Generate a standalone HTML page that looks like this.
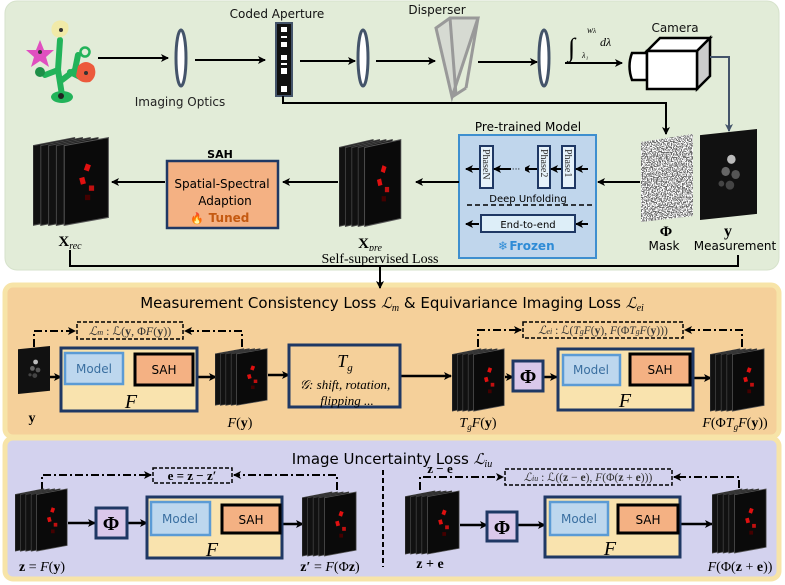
<!DOCTYPE html>
<html><head><meta charset="utf-8"><style>
html,body{margin:0;padding:0;background:#fff}
svg{display:block}
.s{font-family:"DejaVu Sans","Liberation Sans",sans-serif}
.m{font-family:"Liberation Serif","DejaVu Serif",serif}
</style></head><body>
<svg width="785" height="585" viewBox="0 0 785 585" xmlns="http://www.w3.org/2000/svg">
<defs>
<marker id="ah" markerWidth="8" markerHeight="8" refX="7" refY="4" orient="auto" markerUnits="userSpaceOnUse"><path d="M0,0 L8,4 L0,8 L2,4z" fill="#000"/></marker>
<marker id="ahg" markerWidth="8" markerHeight="8" refX="7" refY="4" orient="auto" markerUnits="userSpaceOnUse"><path d="M0,0 L8,4 L0,8 L2,4z" fill="#44546a"/></marker>
<symbol id="stk" viewBox="0 0 60 70" preserveAspectRatio="none">
<polygon points="0,8 32,2 32,62 0,68" fill="#111" stroke="#444" stroke-width="0.8"/>
<polygon points="6,8 38,2 38,62 6,68" fill="#111" stroke="#444" stroke-width="0.8"/>
<polygon points="12,8 44,2 44,62 12,68" fill="#111" stroke="#444" stroke-width="0.8"/>
<polygon points="18,8 50,2 50,62 18,68" fill="#111" stroke="#444" stroke-width="0.8"/>
<polygon points="24,8 58,2 58,62 24,68" fill="#0a0a0a" stroke="#555" stroke-width="0.8"/>
<rect x="40" y="22" width="4" height="5" fill="#e01010" transform="rotate(20 42 24)"/>
<rect x="36" y="32" width="4" height="5" fill="#e01010" transform="rotate(-15 38 34)"/>
<rect x="43" y="38" width="4" height="4" fill="#c01010"/>
<rect x="40" y="45" width="4" height="4" fill="#400"/>
</symbol>
<symbol id="meas" viewBox="0 0 40 60" preserveAspectRatio="none">
<polygon points="0,4 40,0 40,56 0,60" fill="#111"/>
<circle cx="22" cy="20" r="3" fill="#bbb"/><circle cx="18" cy="28" r="3" fill="#666"/><circle cx="25" cy="30" r="3" fill="#555"/><circle cx="21" cy="37" r="3" fill="#444"/><circle cx="15" cy="36" r="2" fill="#444"/>
</symbol>
<filter id="noise" x="0" y="0" width="100%" height="100%"><feTurbulence type="fractalNoise" baseFrequency="0.8" numOctaves="1" seed="3"/><feColorMatrix type="matrix" values="1 0 0 0 0  1 0 0 0 0  1 0 0 0 0  0 0 0 0 1"/><feComponentTransfer><feFuncR type="discrete" tableValues="0.15 0.95"/><feFuncG type="discrete" tableValues="0.15 0.95"/><feFuncB type="discrete" tableValues="0.15 0.95"/></feComponentTransfer></filter>
<clipPath id="mclip"><polygon points="641,142 693,134 693,216 641,222"/></clipPath>
</defs>

<rect x="5" y="1" width="774" height="269" rx="12" fill="#e2ecd8" stroke="#d6e2cb"/>
<rect x="5" y="285" width="774" height="152" rx="8" fill="#f5d09a" stroke="#f7e4a8" stroke-width="5"/>
<rect x="5" y="438" width="774" height="141" rx="8" fill="#d3d2ee" stroke="#f7e4a8" stroke-width="5"/>

<g>
<path d="M60,40 L58,70 L45,75 M58,70 L62,95 M62,80 L75,70 L78,55 M70,72 L82,78" stroke="#22b35a" stroke-width="6" fill="none" stroke-linecap="round"/>
<circle cx="85" cy="52" r="4.5" fill="none" stroke="#22b35a" stroke-width="2.5"/>
<ellipse cx="62" cy="97" rx="11" ry="6" fill="#22b35a"/><circle cx="61" cy="96" r="3" fill="#222"/>
<circle cx="40" cy="72" r="5" fill="#1e8f48"/>
<polygon points="40,40 44,50 54,50 46,57 49,67 40,61 31,67 34,57 26,50 36,50" fill="#e04fc0"/><circle cx="40" cy="52" r="2" fill="#333"/>
<path d="M55,22 Q62,18 68,24 Q70,32 64,36 Q56,40 52,33 Q50,26 55,22z" fill="#f1eaa8"/><circle cx="61" cy="30" r="2" fill="#333"/>
<path d="M78,66 Q86,58 94,66 Q98,76 90,82 Q80,84 76,76z" fill="#ec5a3c"/><circle cx="86" cy="73" r="2" fill="#333"/>
</g>
<line x1="98" y1="58" x2="168" y2="58" stroke="#000" stroke-width="2" marker-end="url(#ah)"/>
<ellipse cx="181" cy="58" rx="5" ry="28" fill="#fff" stroke="#44546a" stroke-width="3"/>
<text x="180" y="106" class="s" font-size="12" text-anchor="middle" fill="#222">Imaging Optics</text>
<line x1="195" y1="60" x2="265" y2="60" stroke="#000" stroke-width="2" marker-end="url(#ah)"/>
<text x="277" y="18" class="s" font-size="12" text-anchor="middle" fill="#111">Coded Aperture</text>
<rect x="276" y="23" width="16" height="73" fill="#111" stroke="#44546a" stroke-width="2"/>
<g fill="#fff"><rect x="281" y="27" width="6" height="5"/><rect x="281" y="36" width="6" height="2"/><rect x="281" y="42" width="6" height="5"/><rect x="281" y="55" width="6" height="5"/><rect x="281" y="63" width="6" height="2"/><rect x="281" y="68" width="6" height="6"/><rect x="281" y="86" width="6" height="6"/></g>
<line x1="300" y1="61" x2="355" y2="61" stroke="#000" stroke-width="2" marker-end="url(#ah)"/>
<ellipse cx="363" cy="58" rx="5" ry="28" fill="#fff" stroke="#44546a" stroke-width="3"/>
<line x1="376" y1="61" x2="435" y2="61" stroke="#000" stroke-width="2" marker-end="url(#ah)"/>
<text x="437" y="14" class="s" font-size="12" text-anchor="middle" fill="#111">Disperser</text>
<g stroke="#999" stroke-width="3" fill="#cfcfcf" fill-opacity="0.6">
<polygon points="436,28 450,18 478,18 452,97"/>
<line x1="450" y1="18" x2="456" y2="95"/><line x1="478" y1="18" x2="466" y2="88"/><line x1="452" y1="97" x2="466" y2="88"/>
</g>
<line x1="478" y1="62" x2="537" y2="62" stroke="#000" stroke-width="2" marker-end="url(#ah)"/>
<ellipse cx="544" cy="58" rx="5" ry="28" fill="#fff" stroke="#44546a" stroke-width="3"/>
<text x="568" y="56" class="m" font-size="26" font-style="italic">∫</text>
<text x="587" y="33" class="m" font-size="9" font-style="italic">w<tspan font-size="7">λ</tspan></text>
<text x="582" y="58" class="m" font-size="8" font-style="italic">λ₁</text>
<text x="600" y="46" class="m" font-size="12" font-style="italic">dλ</text>
<line x1="565" y1="63" x2="622" y2="63" stroke="#000" stroke-width="2" marker-end="url(#ah)"/>
<text x="675" y="32" class="s" font-size="12" text-anchor="middle" fill="#111">Camera</text>
<path d="M632,53 L647,53 L647,80 L632,80 Q627,66 632,53z" fill="#fff" stroke="#000" stroke-width="2.5"/>
<polygon points="647,51 660,38 710,38 697,51" fill="#fff" stroke="#000" stroke-width="2.5"/>
<polygon points="697,51 710,38 710,76 697,89" fill="#ccc" stroke="#000" stroke-width="2.5"/>
<rect x="647" y="51" width="50" height="38" fill="#fff" stroke="#000" stroke-width="2.5"/>
<polyline points="710,57 729,57 729,131" fill="none" stroke="#44546a" stroke-width="2" marker-end="url(#ahg)"/>
<polyline points="283,96 283,103 666,103 666,134" fill="none" stroke="#000" stroke-width="2" marker-end="url(#ah)"/>

<rect x="641" y="134" width="52" height="88" filter="url(#noise)" clip-path="url(#mclip)"/>
<text x="666" y="236" class="m" font-size="15" font-weight="bold" text-anchor="middle">Φ</text>
<text x="664" y="250" class="s" font-size="12" text-anchor="middle">Mask</text>
<use href="#meas" x="700" y="129" width="57" height="91"/>
<text x="728" y="236" class="m" font-size="16" font-weight="bold" text-anchor="middle">y</text>
<text x="735" y="250" class="s" font-size="12" text-anchor="middle">Measurement</text>
<line x1="640" y1="182" x2="598" y2="182" stroke="#000" stroke-width="2" marker-end="url(#ah)"/>

<text x="528" y="131" class="s" font-size="12" text-anchor="middle">Pre-trained Model</text>
<rect x="459" y="135" width="137" height="123" fill="#c0d6ec" stroke="#3e8fcf" stroke-width="2"/>
<g fill="#e6f2fa" stroke="#1f3864" stroke-width="2">
<rect x="480" y="146" width="13" height="42"/><rect x="538" y="146" width="12" height="42"/><rect x="562" y="146" width="13" height="42"/>
</g>
<g class="m" font-size="10" fill="#333">
<text transform="translate(483,149) rotate(90)">PhaseN</text>
<text transform="translate(541,149) rotate(90)">Phase2</text>
<text transform="translate(565,149) rotate(90)">Phase1</text>
</g>
<g stroke="#000" stroke-width="2" marker-end="url(#ah)">
<line x1="588" y1="169" x2="576" y2="169"/><line x1="561" y1="169" x2="551" y2="169"/><line x1="537" y1="169" x2="523" y2="169"/><line x1="479" y1="169" x2="466" y2="169"/><line x1="512" y1="169" x2="494" y2="169"/>
<line x1="588" y1="224" x2="576" y2="224"/><line x1="479" y1="224" x2="466" y2="224"/>
</g>
<rect x="511" y="167" width="14" height="5" fill="#c0d6ec"/>
<text x="516" y="172" font-size="9" class="s" text-anchor="middle">···</text>
<text x="528" y="202" class="s" font-size="10" text-anchor="middle">Deep Unfolding</text>
<line x1="467" y1="205" x2="592" y2="205" stroke="#000" stroke-width="1.5" stroke-dasharray="5,3"/>
<rect x="481" y="215" width="94" height="17" fill="#ddeef8" stroke="#1f3864" stroke-width="2"/>
<text x="528" y="228" class="s" font-size="10" text-anchor="middle">End-to-end</text>
<text x="503" y="250" class="s" font-size="12" fill="#2e8bd6" text-anchor="middle">❄</text>
<text x="532" y="250" class="s" font-size="12" font-weight="bold" fill="#2e8bd6" text-anchor="middle">Frozen</text>
<line x1="459" y1="182" x2="416" y2="182" stroke="#000" stroke-width="2" marker-end="url(#ah)"/>

<use href="#stk" x="339" y="137" width="64" height="92"/>
<text x="370" y="248" class="m" font-size="15" font-weight="bold" text-anchor="middle">X<tspan font-size="10" font-style="italic" font-weight="normal" dy="3">pre</tspan></text>
<rect x="310" y="251" width="140" height="14" fill="#e2ecd8"/>
<text x="380" y="263" class="m" font-size="14" text-anchor="middle">Self-supervised Loss</text>
<line x1="338" y1="182" x2="283" y2="182" stroke="#000" stroke-width="2" marker-end="url(#ah)"/>
<text x="220" y="158" class="s" font-size="11" font-weight="bold" text-anchor="middle">SAH</text>
<rect x="167" y="161" width="111" height="67" fill="#f4b183" stroke="#1f3864" stroke-width="2.5"/>
<text x="222" y="188" class="s" font-size="12" text-anchor="middle">Spatial-Spectral</text>
<text x="225" y="205" class="s" font-size="12" text-anchor="middle">Adaption</text>
<text x="197" y="222" font-size="11" fill="#e0602a" text-anchor="middle">🔥</text>
<text x="229" y="222" class="s" font-size="12" font-weight="bold" fill="#c55a11" text-anchor="middle">Tuned</text>
<line x1="165" y1="182" x2="112" y2="182" stroke="#000" stroke-width="2" marker-end="url(#ah)"/>
<use href="#stk" x="33" y="135" width="78" height="93"/>
<text x="70" y="246" class="m" font-size="15" font-weight="bold" text-anchor="middle">X<tspan font-size="10" font-style="italic" font-weight="normal" dy="3">rec</tspan></text>
<polyline points="70,250 70,266 738,266 738,255" fill="none" stroke="#000" stroke-width="2"/>
<line x1="380" y1="266" x2="380" y2="288" stroke="#000" stroke-width="2" marker-end="url(#ah)"/>

<text x="392" y="308" class="s" font-size="15" text-anchor="middle">Measurement Consistency Loss <tspan class="m" font-style="italic">ℒ<tspan font-size="10" dy="3">m</tspan></tspan><tspan dy="-3"> &amp;  Equivariance Imaging Loss </tspan><tspan class="m" font-style="italic">ℒ<tspan font-size="10" dy="3">ei</tspan></tspan></text>

<g stroke="#000" stroke-width="2" fill="none" stroke-dasharray="8,3,2,3">
<polyline points="34,347 34,331 75,331" marker-end="url(#ah)"/>
<polyline points="242,347 242,331 185,331" marker-end="url(#ah)"/>
<polyline points="478,347 478,330 521,330" marker-end="url(#ah)"/>
<polyline points="742,347 742,330 685,330" marker-end="url(#ah)"/>
<polyline points="42,490 42,475 151,475" marker-end="url(#ah)"/>
<polyline points="337,490 337,475 234,475" marker-end="url(#ah)"/>
<polyline points="420,490 420,477 503,477" marker-end="url(#ah)"/>
<polyline points="739,488 739,477 674,477" marker-end="url(#ah)"/>
</g>
<g fill="none" stroke="#000" stroke-width="1.5" stroke-dasharray="4,2">
<rect x="77" y="322" width="106" height="17"/>
<rect x="523" y="322" width="160" height="16"/>
<rect x="153" y="468" width="79" height="15"/>
<rect x="505" y="469" width="167" height="16"/>
</g>
<line x1="383" y1="470" x2="383" y2="567" stroke="#000" stroke-width="2" stroke-dasharray="5,3"/>
<g class="m" fill="#333" text-anchor="middle">
<text x="130" y="335" font-size="12"><tspan font-style="italic">ℒ<tspan font-size="8">m</tspan></tspan> : ℒ(<tspan font-weight="bold">y</tspan>, Φ<tspan font-style="italic">F</tspan>(<tspan font-weight="bold">y</tspan>))</text>
<text x="603" y="334" font-size="11.5"><tspan font-style="italic">ℒ<tspan font-size="8">ei</tspan></tspan> : ℒ(<tspan font-style="italic">T<tspan font-size="8">g</tspan>F</tspan>(<tspan font-weight="bold">y</tspan>), <tspan font-style="italic">F</tspan>(Φ<tspan font-style="italic">T<tspan font-size="8">g</tspan>F</tspan>(<tspan font-weight="bold">y</tspan>)))</text>
<text x="192" y="480" font-size="13" fill="#000" font-weight="bold">e = z − z′</text>
<text x="588" y="481" font-size="11.5"><tspan font-style="italic">ℒ<tspan font-size="8">iu</tspan></tspan> : ℒ((<tspan font-weight="bold">z</tspan> − <tspan font-weight="bold">e</tspan>), <tspan font-style="italic">F</tspan>(Φ(<tspan font-weight="bold">z</tspan> + <tspan font-weight="bold">e</tspan>)))</text>
</g>

<use href="#meas" x="18" y="346" width="32" height="48"/>
<text x="32" y="422" class="m" font-size="14" font-weight="bold" text-anchor="middle">y</text>
<g stroke="#000" stroke-width="2.5" marker-end="url(#ah)">
<line x1="50" y1="377" x2="61" y2="377"/><line x1="123" y1="374" x2="135" y2="374"/><line x1="197" y1="377" x2="216" y2="377"/>
<line x1="268" y1="375" x2="289" y2="375"/><line x1="400" y1="376" x2="451" y2="376"/><line x1="505" y1="377" x2="513" y2="377"/>
<line x1="543" y1="377" x2="557" y2="377"/><line x1="618" y1="373" x2="630" y2="373"/><line x1="693" y1="378" x2="711" y2="378"/>
<line x1="68" y1="523" x2="95" y2="523"/><line x1="127" y1="523" x2="147" y2="523"/><line x1="210" y1="521" x2="222" y2="521"/><line x1="282" y1="524" x2="303" y2="524"/>
<line x1="460" y1="525" x2="487" y2="525"/><line x1="517" y1="525" x2="545" y2="525"/><line x1="608" y1="520" x2="618" y2="520"/><line x1="680" y1="524" x2="712" y2="524"/>
</g>
<g stroke="#1f3864" stroke-width="3" fill="#f9e3ae">
<rect x="61" y="348" width="136" height="63"/><rect x="558" y="349" width="135" height="61"/>
<rect x="147" y="497" width="135" height="61"/><rect x="545" y="497" width="135" height="60"/>
</g>
<g stroke="#5b9bd5" stroke-width="2.5" fill="#bdd7ee">
<rect x="65" y="353" width="58" height="31"/><rect x="563" y="355" width="57" height="30"/>
<rect x="151" y="502" width="59" height="33"/><rect x="550" y="502" width="58" height="33"/>
</g>
<g stroke="#000" stroke-width="3" fill="#f4b183">
<rect x="135" y="354" width="58" height="31"/><rect x="630" y="354" width="60" height="31"/>
<rect x="222" y="505" width="58" height="28"/><rect x="618" y="505" width="60" height="28"/>
</g>
<g class="s" font-size="12" text-anchor="middle">
<text x="94" y="373" fill="#3a6fa0">Model</text><text x="164" y="374">SAH</text>
<text x="591" y="374" fill="#3a6fa0">Model</text><text x="660" y="374">SAH</text>
<text x="180" y="523" fill="#3a6fa0">Model</text><text x="251" y="524">SAH</text>
<text x="579" y="523" fill="#3a6fa0">Model</text><text x="648" y="524">SAH</text>
</g>
<g class="m" font-size="20" font-style="italic" text-anchor="middle">
<text x="131" y="408">F</text><text x="625" y="407">F</text><text x="212" y="556">F</text><text x="610" y="555">F</text>
</g>
<use href="#stk" x="215" y="347" width="54" height="60"/>
<text x="240" y="427" class="m" font-size="14" text-anchor="middle"><tspan font-style="italic">F</tspan>(<tspan font-weight="bold">y</tspan>)</text>
<rect x="289" y="345" width="111" height="62" fill="none" stroke="#1f3864" stroke-width="3"/>
<text x="345" y="367" class="m" font-size="18" font-style="italic" text-anchor="middle">T<tspan font-size="11" dy="4">g</tspan></text>
<text x="345" y="389" class="m" font-size="13" font-style="italic" text-anchor="middle">𝒢: shift, rotation,</text>
<text x="347" y="405" class="m" font-size="13" font-style="italic" text-anchor="middle">flipping ...</text>
<use href="#stk" x="452" y="347" width="54" height="66"/>
<text x="478" y="427" class="m" font-size="14" text-anchor="middle"><tspan font-style="italic">T<tspan font-size="9" dy="3">g</tspan><tspan dy="-3">F</tspan></tspan>(<tspan font-weight="bold">y</tspan>)</text>
<g fill="#dac8ea" stroke="#1f3864" stroke-width="3">
<rect x="513" y="361" width="30" height="30"/><rect x="96" y="508" width="31" height="30"/><rect x="487" y="512" width="30" height="29"/>
</g>
<g class="m" font-size="20" font-weight="bold" text-anchor="middle">
<text x="528" y="383">Φ</text><text x="111" y="530">Φ</text><text x="502" y="534">Φ</text>
</g>
<use href="#stk" x="710" y="347" width="56" height="66"/>
<text x="735" y="427" class="m" font-size="14" text-anchor="middle"><tspan font-style="italic">F</tspan>(Φ<tspan font-style="italic">T<tspan font-size="9" dy="3">g</tspan><tspan dy="-3">F</tspan></tspan>(<tspan font-weight="bold">y</tspan>))</text>

<text x="392" y="464" class="s" font-size="15" text-anchor="middle">Image Uncertainty Loss <tspan class="m" font-style="italic">ℒ<tspan font-size="10" dy="3">iu</tspan></tspan></text>
<use href="#stk" x="15" y="487" width="54" height="66"/>
<text x="42" y="571" class="m" font-size="14" text-anchor="middle"><tspan font-weight="bold">z</tspan> = <tspan font-style="italic">F</tspan>(<tspan font-weight="bold">y</tspan>)</text>
<use href="#stk" x="302" y="490" width="56" height="68"/>
<text x="330" y="571" class="m" font-size="14" text-anchor="middle"><tspan font-weight="bold">z′</tspan> = <tspan font-style="italic">F</tspan>(Φ<tspan font-weight="bold">z</tspan>)</text>
<text x="440" y="473" class="m" font-size="13" font-weight="bold" text-anchor="middle">z − e</text>
<use href="#stk" x="405" y="489" width="56" height="67"/>
<text x="430" y="568" class="m" font-size="14" font-weight="bold" text-anchor="middle">z + e</text>
<use href="#stk" x="712" y="487" width="56" height="68"/>
<text x="740" y="571" class="m" font-size="14" text-anchor="middle"><tspan font-style="italic">F</tspan>(Φ(<tspan font-weight="bold">z</tspan> + <tspan font-weight="bold">e</tspan>))</text>
</svg>
</body></html>
